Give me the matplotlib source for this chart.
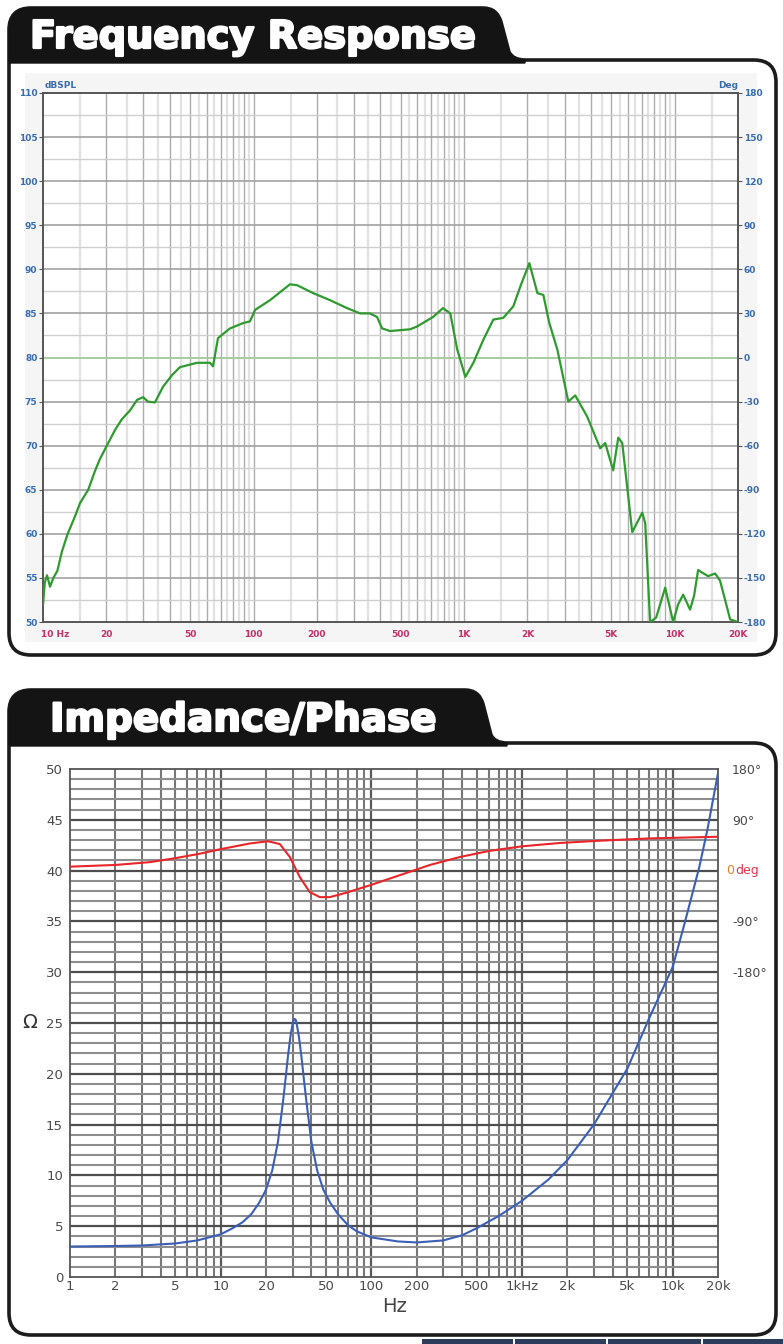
import matplotlib
matplotlib.use('Agg')
import matplotlib.pyplot as plt
import matplotlib.patheffects as pe
from matplotlib.path import Path
from matplotlib.patches import PathPatch, Rectangle
from matplotlib.ticker import NullLocator, FixedLocator
import numpy as np

# --- frequency response (SPL) ---
fr_freq = [10.0, 10.2, 10.45, 10.8, 11.2, 11.7, 12.3, 13.1, 14.2, 15.0, 16.4, 17.7,
           18.65, 20.1, 22.0, 23.7, 25.9, 28.0, 29.9, 31.5, 34.0, 37.2, 41.0, 44.7,
           53.9, 62.1, 64.2, 67.8, 77.3, 89.2, 96.2, 101.7, 119.7, 149, 161, 192,
           231, 278, 321, 357, 386, 408, 445, 554, 596, 713, 794, 860, 928, 1014,
           1107, 1234, 1377, 1536, 1713, 1866, 2042, 2230, 2380, 2534, 2773, 3127,
           3373, 3842, 4432, 4680, 5107, 5398, 5640, 6290, 7020, 7250, 7647, 8170,
           9020, 9520, 9840, 10390, 10980, 11840, 12376, 12930, 13510, 14430,
           15570, 16430, 17370, 18350, 20000]
fr_db = [51.9, 54.5, 55.3, 54.0, 55.0, 55.8, 58.0, 60.0, 62.0, 63.5, 65.0, 67.2,
         68.5, 70.0, 71.8, 73.0, 74.0, 75.2, 75.5, 75.0, 74.9, 76.7, 78.0, 78.9,
         79.4, 79.4, 79.0, 82.2, 83.3, 83.9, 84.1, 85.4, 86.5, 88.3, 88.2, 87.3,
         86.5, 85.6, 85.0, 85.0, 84.6, 83.3, 83.0, 83.2, 83.5, 84.6, 85.6, 85.0,
         80.9, 77.8, 79.4, 82.0, 84.3, 84.5, 85.8, 88.3, 90.7, 87.3, 87.1, 84.0,
         80.9, 75.0, 75.7, 73.3, 69.7, 70.3, 67.2, 70.9, 70.3, 60.2, 62.4, 61.2,
         50.0, 50.5, 53.9, 51.5, 50.0, 52.0, 53.1, 51.4, 53.0, 55.9, 55.6, 55.2,
         55.5, 54.7, 52.5, 50.3, 50.0]

spl_ticks = list(range(50, 111, 5))
deg_ticks = list(range(-180, 181, 30))
fr_xticks = [10, 20, 50, 100, 200, 500, 1000, 2000, 5000, 10000, 20000]
fr_xlabels = ['10 Hz', '20', '50', '100', '200', '500', '1K', '2K', '5K', '10K', '20K']

# --- impedance magnitude and phase ---
imp_freq = [1, 2, 3, 5, 7, 10, 12, 14, 16, 18, 20, 22, 24, 26, 27, 28, 29, 30, 30.5,
            31, 31.5, 32, 33.1, 34.3, 35.6, 37, 40, 43.7, 48, 53.4, 60, 70, 80, 100,
            150, 200, 300, 400, 500, 700, 1000, 1500, 2000, 3000, 5000, 7000, 10000,
            12000, 15000, 17000, 20000]
imp_ohm = [3.0, 3.05, 3.1, 3.3, 3.6, 4.2, 4.8, 5.4, 6.2, 7.3, 8.6, 10.5, 13.3, 17.4,
           19.6, 21.8, 23.6, 24.9, 25.3, 25.4, 25.3, 24.9, 23.6, 21.8, 19.6, 17.4,
           13.3, 10.5, 8.6, 7.3, 6.2, 5.1, 4.5, 3.9, 3.5, 3.4, 3.6, 4.1, 4.8, 6.0,
           7.5, 9.6, 11.5, 15.0, 20.5, 25.5, 30.5, 34.8, 40.3, 44.0, 49.6]

ph_freq = [1, 2, 3.4, 5, 7.3, 10, 15.6, 20.6, 24.7, 28.8, 33.6, 39, 45.5, 53, 66.6,
           98, 155, 245, 386, 610, 1000, 1800, 3300, 7000, 20000]
ph_deg = [7, 10, 15, 22, 30, 38, 48, 52, 47, 24, -12, -38, -47, -47, -40, -26,
          -8, 10, 24, 35, 43, 49, 53, 57, 60]

ohm_ticks = list(range(0, 51, 5))
imp_xticks = [1, 2, 5, 10, 20, 50, 100, 200, 500, 1000, 2000, 5000, 10000, 20000]
imp_xlabels = ['1', '2', '5', '10', '20', '50', '100', '200', '500', '1kHz', '2k',
               '5k', '10k', '20k']
phase_ticks = [180, 90, -90, -180]
phase_labels = ['180°', '90°', '-90°', '-180°']

W, H = 783, 1344
BLUE = '#3a6db0'
CRIMSON = '#c23068'
NARROW = ['Liberation Sans Narrow', 'DejaVu Sans']


def box(l, t, r, b):
    return [l / W, 1 - b / H, (r - l) / W, (b - t) / H]


def panel_path(top, tab_r, line_y, bottom, left=9, right=776, r=22):
    verts = [(left, bottom - r), (left, top + r), (left, top), (left + r, top),
             (tab_r, top), (tab_r + 14, top), (tab_r + 18, top + 14),
             (tab_r + 26, line_y - 8), (tab_r + 30, line_y), (tab_r + 42, line_y),
             (right - r, line_y), (right, line_y), (right, line_y + r),
             (right, bottom - r), (right, bottom), (right - r, bottom),
             (left + r, bottom), (left, bottom), (left, bottom - r), (0, 0)]
    codes = [Path.MOVETO, Path.LINETO, Path.CURVE3, Path.CURVE3,
             Path.LINETO, Path.CURVE3, Path.CURVE3,
             Path.LINETO, Path.CURVE3, Path.CURVE3,
             Path.LINETO, Path.CURVE3, Path.CURVE3,
             Path.LINETO, Path.CURVE3, Path.CURVE3,
             Path.LINETO, Path.CURVE3, Path.CURVE3, Path.CLOSEPOLY]
    return Path(verts, codes)


def tab_path(top, tab_r, line_y, left=9, r=22):
    verts = [(left, line_y + 3), (left, top + r), (left, top), (left + r, top),
             (tab_r, top), (tab_r + 14, top), (tab_r + 18, top + 14),
             (tab_r + 26, line_y - 8), (tab_r + 30, line_y), (tab_r + 42, line_y),
             (tab_r + 42, line_y + 3), (0, 0)]
    codes = [Path.MOVETO, Path.LINETO, Path.CURVE3, Path.CURVE3,
             Path.LINETO, Path.CURVE3, Path.CURVE3,
             Path.LINETO, Path.CURVE3, Path.CURVE3,
             Path.LINETO, Path.CLOSEPOLY]
    return Path(verts, codes)


fig = plt.figure(figsize=(W / 100, H / 100), dpi=100)
fig.patch.set_facecolor('white')

# page decoration: panels with black title tabs
bg = fig.add_axes([0, 0, 1, 1])
bg.set_xlim(0, W)
bg.set_ylim(H, 0)
bg.axis('off')
for top, tab_r, line_y, bottom in [(8, 483, 60, 655), (690, 465, 743, 1335)]:
    bg.add_patch(PathPatch(panel_path(top, tab_r, line_y, bottom),
                           facecolor='white', edgecolor='#1c1c1c', lw=2.6))
    bg.add_patch(PathPatch(tab_path(top, tab_r, line_y),
                           facecolor='#141414', edgecolor='#141414', lw=1))
bg.add_patch(Rectangle((25, 73), 732, 569, facecolor='#f5f5f5', edgecolor='none'))
for x0, x1 in [(422, 513), (515, 606), (608, 701), (703, 783)]:
    bg.add_patch(Rectangle((x0, 1339), x1 - x0, 6, facecolor='#2d3d5c', edgecolor='none'))

title_fx = [pe.withStroke(linewidth=1.6, foreground='white')]
bg.text(30, 48, 'Frequency Response', color='white', fontsize=27.6,
        fontweight='bold', va='baseline', ha='left', path_effects=title_fx)
bg.text(50, 731, 'Impedance/Phase', color='white', fontsize=28,
        fontweight='bold', va='baseline', ha='left', path_effects=title_fx)

# --- SPL chart ---
ax1 = fig.add_axes(box(43, 93, 738, 622))
ax1.set_facecolor('white')
ax1.set_xscale('log')
ax1.set_xlim(10, 20000)
ax1.set_ylim(50, 110)
for d in [10, 100, 1000, 10000]:
    for m in range(1, 10):
        f = m * d
        if 10 < f < 20000:
            ax1.axvline(f, color='#adadad', lw=1.0, zorder=1)
        fh = (m + 0.5) * d
        if 10 < fh < 20000:
            ax1.axvline(fh, color='#e2e2e2', lw=1.6, zorder=0.5)
for v in np.arange(52.5, 110, 5):
    ax1.axhline(v, color='#cfcfcf', lw=1.0, zorder=1)
for v in spl_ticks[1:-1]:
    ax1.axhline(v, color='#a2a2a2', lw=1.2, zorder=1)
ax1.axhline(80, color='#a6d89e', lw=1.1, zorder=2)
ax1.plot(fr_freq, fr_db, color='#2f9a2f', lw=1.6, zorder=3)

ax1.xaxis.set_major_locator(FixedLocator(fr_xticks))
ax1.xaxis.set_minor_locator(NullLocator())
ax1.tick_params(axis='x', bottom=False, labelbottom=False)
ax1.set_yticks(spl_ticks)
ax1.set_yticklabels([str(v) for v in spl_ticks])
ax1.tick_params(axis='y', length=3, width=0.8, color='#555555', pad=1,
                labelsize=6.5, labelcolor=BLUE)
for lab in ax1.get_yticklabels():
    lab.set_family(NARROW)
    lab.set_fontweight('bold')
for s in ax1.spines.values():
    s.set_color('#555555')
    s.set_linewidth(1.4)
for f, lab in zip(fr_xticks, fr_xlabels):
    ha = 'left' if f == 10 else 'center'
    ax1.text(f if f != 10 else 9.75, -0.024, lab, transform=ax1.get_xaxis_transform(),
             ha=ha, va='center', fontsize=6.5, color=CRIMSON, fontweight='bold',
             family=NARROW)

ax1r = ax1.twinx()
ax1r.set_ylim(-180, 180)
ax1r.set_yticks(deg_ticks)
ax1r.set_yticklabels([str(v) for v in deg_ticks])
ax1r.tick_params(axis='y', length=3, width=0.8, color='#555555', pad=1,
                 labelsize=6.5, labelcolor=BLUE)
for lab in ax1r.get_yticklabels():
    lab.set_family(NARROW)
    lab.set_fontweight('bold')
for s in ax1r.spines.values():
    s.set_visible(False)
fig.text(45 / W, 1 - 86 / H, 'dBSPL', color=BLUE, fontsize=6.5, fontweight='bold',
         family=NARROW, ha='left', va='center')
fig.text(738 / W, 1 - 86 / H, 'Deg', color=BLUE, fontsize=6.5, fontweight='bold',
         family=NARROW, ha='right', va='center')

# --- impedance / phase chart ---
ax2 = fig.add_axes(box(70, 769, 718, 1277))
ax2.set_facecolor('white')
ax2.set_xscale('log')
ax2.set_xlim(1, 20000)
ax2.set_ylim(0, 50)
for d in [1, 10, 100, 1000, 10000]:
    for m in range(2, 10):
        f = m * d
        if f < 20000:
            ax2.axvline(f, color='#767676', lw=1.5, zorder=1)
    if d > 1:
        ax2.axvline(d, color='#5a5a5a', lw=1.6, zorder=1)
for v in range(1, 50):
    if v % 5:
        ax2.axhline(v, color='#8e8e8e', lw=1.5, zorder=1)
    else:
        ax2.axhline(v, color='#4e4e4e', lw=1.6, zorder=1)
ax2.plot(imp_freq, imp_ohm, color='#3b5fb7', lw=1.5, zorder=3)

ax2.xaxis.set_major_locator(FixedLocator(imp_xticks))
ax2.xaxis.set_minor_locator(NullLocator())
ax2.set_xticklabels(imp_xlabels)
ax2.set_yticks(ohm_ticks)
ax2.set_yticklabels([str(v) for v in ohm_ticks])
ax2.tick_params(axis='y', length=0, pad=5, labelsize=9.5, labelcolor='#4a4a4a')
ax2.tick_params(axis='x', length=0, pad=2, labelsize=9.5, labelcolor='#4a4a4a')
for lab in ax2.get_xticklabels():
    lab.set_family(NARROW)
for s in ax2.spines.values():
    s.set_color('#555555')
    s.set_linewidth(1.3)

ax2r = ax2.twinx()
ax2r.set_ylim(-720, 180)
ax2r.plot(ph_freq, ph_deg, color='#e8262a', lw=1.5, zorder=3)
ax2r.set_yticks(phase_ticks)
ax2r.set_yticklabels(phase_labels)
ax2r.tick_params(axis='y', length=0, pad=10, labelsize=9, labelcolor='#4a4a4a')
for s in ax2r.spines.values():
    s.set_visible(False)
ax2r.text(1.012, 0, '0', transform=ax2r.get_yaxis_transform(), color='#e0802a',
          fontsize=9, ha='left', va='center')
ax2r.text(1.027, 0, 'deg', transform=ax2r.get_yaxis_transform(), color='#e8344a',
          fontsize=9, ha='left', va='center')

fig.text(30 / W, 1 - 1022 / H, 'Ω', fontsize=14, color='#333333', ha='center', va='center')
fig.text(395 / W, 1 - 1306 / H, 'Hz', fontsize=14, color='#444444', ha='center', va='center')

fig.savefig('out.png', dpi=100)
